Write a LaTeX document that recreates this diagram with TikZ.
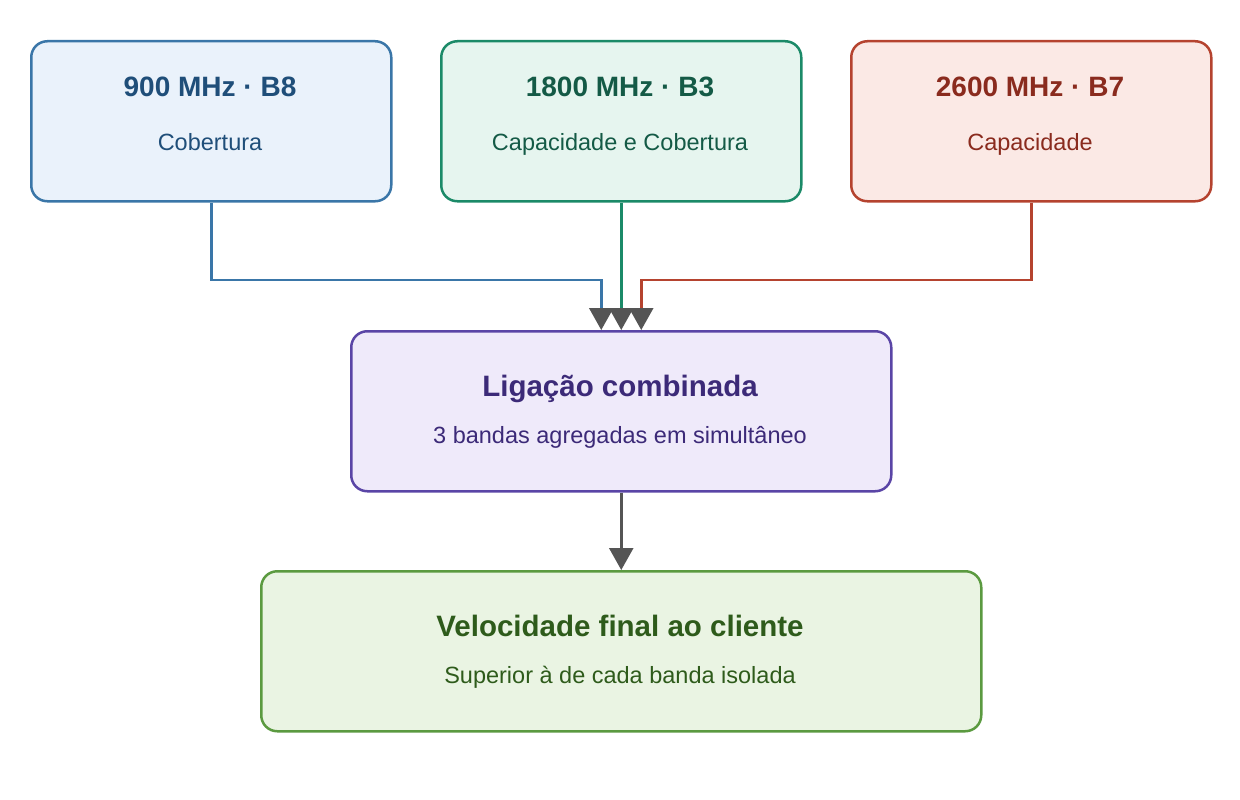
\documentclass[tikz,border=0pt]{standalone}
\usepackage{fontspec}
\setmainfont{Liberation Sans}
\usetikzlibrary{arrows.meta}
\definecolor{bS}{HTML}{3A76A8}\definecolor{bF}{HTML}{EAF2FB}\definecolor{bT}{HTML}{1F4E79}
\definecolor{gS}{HTML}{1B8A68}\definecolor{gF}{HTML}{E6F5EF}\definecolor{gT}{HTML}{145A46}
\definecolor{rS}{HTML}{B5432F}\definecolor{rF}{HTML}{FBE9E5}\definecolor{rT}{HTML}{8A2B1E}
\definecolor{pS}{HTML}{5A45A6}\definecolor{pF}{HTML}{EFEAFA}\definecolor{pT}{HTML}{3C2A78}
\definecolor{lS}{HTML}{5B9A40}\definecolor{lF}{HTML}{EAF4E3}\definecolor{lT}{HTML}{2E5B1B}
\definecolor{tipC}{HTML}{555555}
\tikzset{
  card/.style={draw, line width=2.5pt, rounded corners=16pt, inner sep=0pt, anchor=north west},
  ttl/.style={font=\fontsize{28}{34}\selectfont\bfseries, inner sep=0pt, anchor=base},
  sub/.style={font=\fontsize{23.5}{28}\selectfont, inner sep=0pt, anchor=base},
  conn/.style={line width=2.5pt, -{Triangle[width=24pt,length=22pt,color=tipC,fill=tipC]}},
}
\begin{document}
\begin{tikzpicture}[x=1pt,y=-1pt]
\useasboundingbox (0,0) rectangle (1240,800);
% top cards
\node[card, draw=bS, fill=bF, minimum width=360pt, minimum height=160pt] (b8) at (30,40) {};
\node[card, draw=gS, fill=gF, minimum width=360pt, minimum height=160pt] (b3) at (440,40) {};
\node[card, draw=rS, fill=rF, minimum width=360pt, minimum height=160pt] (b7) at (850,40) {};
\node[ttl, text=bT] (b8t) at (210,96.5) {900 MHz · B8};
\node[sub, text=bT] (b8s) at (210,150) {Cobertura};
\node[ttl, text=gT] (b3t) at (620,96.5) {1800 MHz · B3};
\node[sub, text=gT] (b3s) at (620,150) {Capacidade e Cobertura};
\node[ttl, text=rT] (b7t) at (1030,96.5) {2600 MHz · B7};
\node[sub, text=rT] (b7s) at (1030,150) {Capacidade};
% middle
\node[card, draw=pS, fill=pF, minimum width=540pt, minimum height=160pt] (mix) at (350,330) {};
\node[ttl, font=\fontsize{29.5}{35}\selectfont\bfseries, text=pT] (mixt) at (620,396) {Ligação combinada};
\node[sub, text=pT] (mixs) at (620,443.5) {3 bandas agregadas em simultâneo};
% bottom
\node[card, draw=lS, fill=lF, minimum width=720pt, minimum height=160pt] (fin) at (260,570) {};
\node[ttl, font=\fontsize{29.5}{35}\selectfont\bfseries, text=lT] (fint) at (620,636) {Velocidade final ao cliente};
\node[sub, text=lT] (fins) at (620,683.5) {Superior à de cada banda isolada};
% connectors
\coordinate (inB) at ([xshift=-20pt]mix.north);
\coordinate (inR) at ([xshift=20pt]mix.north);
\draw[conn, bS] (b8.south) |- ([yshift=50pt]inB) -- (inB);
\draw[conn, gS] (b3.south) -- (mix.north);
\draw[conn, rS] (b7.south) |- ([yshift=50pt]inR) -- (inR);
\draw[conn, tipC] (mix.south) -- (fin.north);
\end{tikzpicture}
\end{document}
